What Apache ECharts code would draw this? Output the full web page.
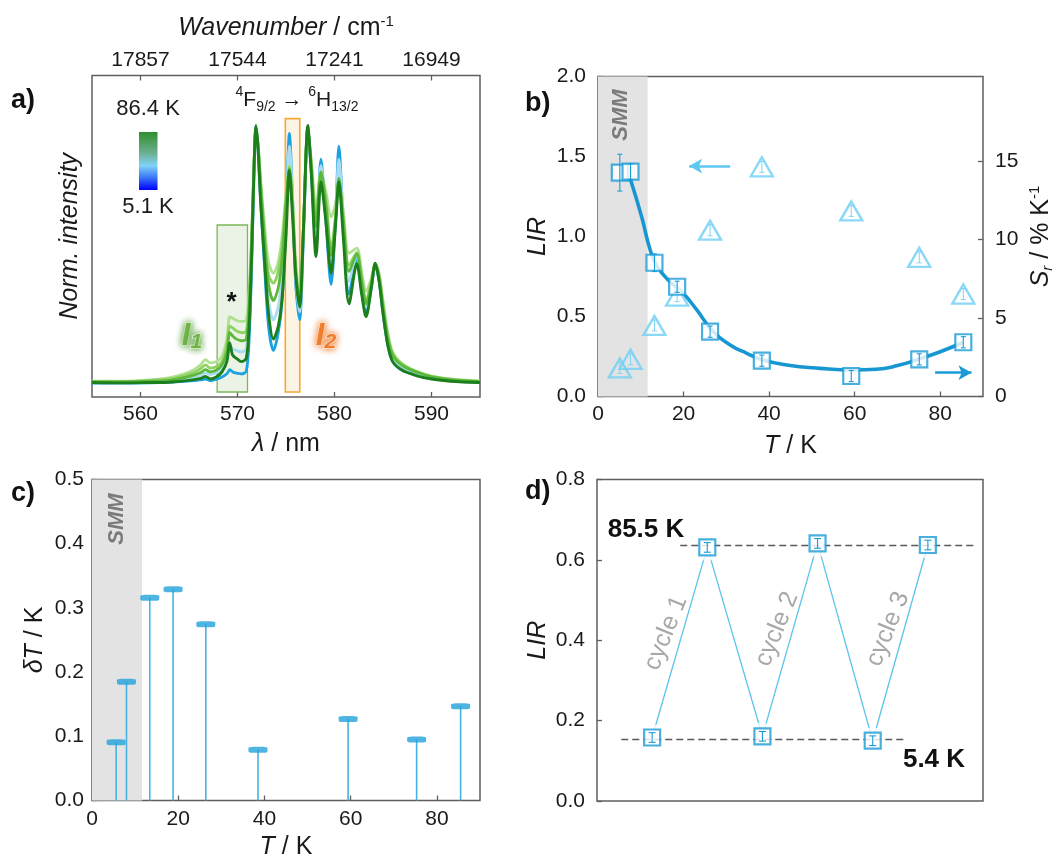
<!DOCTYPE html>
<html><head><meta charset="utf-8">
<script src="https://cdn.jsdelivr.net/npm/echarts@6/dist/echarts.min.js"></script>
<style>html,body{margin:0;padding:0;background:#fff}#c{width:1055px;height:858px}</style>
</head><body><div id="c"></div>
<script>
const FONT = "'Liberation Sans', Arial, Helvetica, sans-serif";
const TXT = '#1a1a1a';
const FRAME = '#5f5f5f';

// ---------- panel a: spectra ----------
const wavelength = [555,558,561,563,564.5,565.5,566.2,566.7,567.2,567.8,568.4,568.9,569.2,569.5,569.9,570.4,570.9,571.2,571.5,571.75,571.9,572.1,572.4,572.8,573.2,573.7,574.2,574.6,575.0,575.35,575.7,576.0,576.4,576.8,577.25,577.6,578.1,578.6,579.1,579.65,580.1,580.45,580.9,581.5,582.3,582.8,583.25,583.8,584.2,584.6,585.0,585.5,586.0,587.0,588.5,590,592,595];
const specBlue = [0.043,0.043,0.044,0.046,0.049,0.051,0.053,0.056,0.051,0.055,0.062,0.072,0.085,0.078,0.074,0.072,0.08,0.18,0.45,0.75,0.84,0.78,0.6,0.4,0.22,0.145,0.2,0.3,0.55,0.82,0.6,0.35,0.24,0.5,0.835,0.7,0.47,0.74,0.55,0.35,0.55,0.78,0.55,0.32,0.43,0.33,0.26,0.34,0.41,0.36,0.26,0.16,0.11,0.082,0.068,0.058,0.05,0.045];
const specLightBlue = [0.046,0.046,0.047,0.05,0.056,0.062,0.068,0.075,0.07,0.075,0.09,0.12,0.16,0.15,0.145,0.14,0.15,0.25,0.5,0.76,0.84,0.79,0.63,0.45,0.3,0.24,0.28,0.38,0.58,0.78,0.6,0.37,0.265,0.52,0.835,0.72,0.5,0.72,0.58,0.4,0.56,0.74,0.57,0.36,0.44,0.35,0.28,0.35,0.415,0.37,0.27,0.17,0.12,0.09,0.072,0.06,0.052,0.046];
const specPaleGreen = [0.049,0.049,0.053,0.06,0.072,0.085,0.1,0.116,0.106,0.11,0.126,0.18,0.25,0.245,0.238,0.235,0.24,0.33,0.55,0.76,0.82,0.79,0.67,0.53,0.42,0.385,0.42,0.5,0.63,0.72,0.6,0.42,0.31,0.53,0.82,0.74,0.59,0.69,0.64,0.56,0.6,0.66,0.58,0.447,0.463,0.39,0.328,0.37,0.415,0.385,0.3,0.2,0.14,0.104,0.08,0.065,0.056,0.05];
const specLightGreen = [0.048,0.048,0.051,0.056,0.066,0.076,0.088,0.1,0.09,0.094,0.11,0.16,0.22,0.215,0.205,0.2,0.205,0.3,0.53,0.76,0.83,0.79,0.66,0.5,0.38,0.354,0.39,0.47,0.62,0.715,0.58,0.4,0.3,0.53,0.83,0.73,0.55,0.7,0.62,0.46,0.56,0.675,0.56,0.41,0.45,0.37,0.3,0.36,0.415,0.38,0.29,0.19,0.135,0.1,0.078,0.064,0.055,0.049];
const specGreen = [0.047,0.047,0.049,0.052,0.06,0.068,0.076,0.085,0.078,0.083,0.1,0.14,0.2,0.19,0.18,0.175,0.18,0.28,0.52,0.76,0.835,0.79,0.65,0.48,0.35,0.3,0.34,0.43,0.6,0.71,0.57,0.39,0.29,0.53,0.835,0.72,0.53,0.7,0.6,0.44,0.55,0.68,0.55,0.39,0.445,0.36,0.29,0.35,0.415,0.37,0.28,0.18,0.13,0.098,0.077,0.063,0.054,0.048];
const specDarkGreen = [0.045,0.044,0.045,0.046,0.05,0.054,0.058,0.064,0.056,0.062,0.078,0.11,0.168,0.13,0.12,0.11,0.12,0.22,0.48,0.76,0.845,0.78,0.6,0.42,0.26,0.18,0.22,0.31,0.5,0.705,0.55,0.38,0.28,0.52,0.845,0.7,0.437,0.67,0.55,0.385,0.53,0.67,0.5,0.29,0.415,0.32,0.25,0.34,0.416,0.36,0.26,0.16,0.11,0.083,0.066,0.056,0.049,0.045];
const nmTicks = [560,570,580,590];
const wavenumberLabels = ['17857','17544','17241','16949'];
const i1Band = [567.9, 571.03, 0.535];   // from, to, top
const i2Band = [574.93, 576.42, 0.866];
const bandBottom = 0.0155;

// ---------- panel b ----------
const bTemp = [5.1, 7.6, 13.2, 18.5, 26.2, 38.3, 59.2, 75.1, 85.4];
const bLIR = [1.399, 1.405, 0.836, 0.686, 0.405, 0.224, 0.128, 0.232, 0.339];
const bLIRerr = [0.115, 0.05, 0.055, 0.035, 0.035, 0.035, 0.035, 0.035, 0.035];
const bSr = [1.82, 2.37, 4.53, 6.4, 10.6, 14.64, 11.83, 8.87, 6.53];
const bSrErr = [0.35, 0.35, 0.35, 0.35, 0.35, 0.35, 0.35, 0.35, 0.35];
const fitT = [7.5, 10.2, 12.2, 13.9, 16.8, 19.9, 23.1, 26.6, 30.9, 34.8, 38.6, 44.1, 51.9, 59.7, 65, 70, 75, 80, 85.4];
const fitLIR = [1.364, 1.124, 0.916, 0.811, 0.718, 0.645, 0.541, 0.416, 0.322, 0.27, 0.228, 0.197, 0.176, 0.166, 0.17, 0.193, 0.234, 0.28, 0.339];
const tTicks = [0,20,40,60,80];
const srTicks = [0,5,10,15];
const smmRange = [0, 11.6];
const arrowLeft = [[30.9, 1.44], [21.3, 1.44]];
const arrowRight = [[78.8, 0.149], [87.3, 0.149]];

// ---------- panel c ----------
const cTemp = [5.6, 8.0, 13.4, 18.8, 26.4, 38.5, 59.4, 75.3, 85.5];
const cDeltaT = [0.0906, 0.185, 0.316, 0.329, 0.2745, 0.079, 0.127, 0.095, 0.147];

// ---------- panel d ----------
const dIndex = [1, 2, 3, 4, 5, 6];
const dLIR = [0.158, 0.631, 0.161, 0.641, 0.150, 0.637];
const dErr = [0.012, 0.012, 0.012, 0.012, 0.012, 0.012];
const dHighLine = [1.51, 6.83, 0.636];
const dLowLine = [0.44, 5.61, 0.1525];

const zip = (a, b) => a.map((v, i) => [v, b[i]]);
const errData = (x, y, e) => x.map((v, i) => [v, y[i] - e[i], y[i] + e[i]]);

function errRender(color, capW, lw) {
  return function (params, api) {
    const x = api.value(0), lo = api.value(1), hi = api.value(2);
    const p1 = api.coord([x, lo]), p2 = api.coord([x, hi]);
    const c = capW / 2;
    const st = { stroke: color, lineWidth: lw };
    return { type: 'group', children: [
      { type: 'line', shape: { x1: p1[0], y1: p1[1], x2: p2[0], y2: p2[1] }, style: st },
      { type: 'line', shape: { x1: p1[0] - c, y1: p1[1], x2: p1[0] + c, y2: p1[1] }, style: st },
      { type: 'line', shape: { x1: p2[0] - c, y1: p2[1], x2: p2[0] + c, y2: p2[1] }, style: st }
    ]};
  };
}
function stemRender(params, api) {
  const x = api.value(0), y = api.value(1);
  const p1 = api.coord([x, 0]), p2 = api.coord([x, y]);
  return { type: 'line', shape: { x1: p1[0], y1: p1[1], x2: p2[0], y2: p2[1] }, style: { stroke: '#45b3e3', lineWidth: 1.6 } };
}

const tickStyle = { inside: true, length: 5, lineStyle: { color: FRAME, width: 1.3 } };
const lab = (extra) => Object.assign({ color: TXT, fontSize: 21, fontFamily: FONT }, extra || {});
const nameStyle = (rich) => ({ color: TXT, fontSize: 25, fontFamily: FONT, lineHeight: 28, rich: rich });
const richBase = {
  i: { fontStyle: 'italic', fontSize: 25, fontFamily: FONT, color: TXT, lineHeight: 28 },
  sup: { fontSize: 15, fontFamily: FONT, color: TXT, verticalAlign: 'top', lineHeight: 15 },
  sub: { fontSize: 15, fontFamily: FONT, color: TXT, verticalAlign: 'bottom', lineHeight: 15, fontStyle: 'italic' }
};
const gridBox = { show: true, borderColor: FRAME, borderWidth: 1.5, backgroundColor: 'transparent', containLabel: false, outerBoundsMode: 'none' };

const specSeries = [
  ['5.1 K', specBlue, '#1aa3e0', 2.8],
  ['light blue', specLightBlue, '#a9dcf3', 2.8],
  ['pale green', specPaleGreen, '#b0e192', 2.8],
  ['light green', specLightGreen, '#8fd262', 2.8],
  ['green', specGreen, '#5cb83a', 2.8],
  ['86.4 K', specDarkGreen, '#1c7f1c', 2.9]
].map(([n, d, c, w], k) => ({
  name: n, type: 'line', xAxisIndex: 0, yAxisIndex: 0, data: zip(wavelength, d),
  showSymbol: false, smooth: 0.3, lineStyle: { color: c, width: w }, z: 2 + k * 0.01, silent: true
}));

const option = {
  animation: false,
  backgroundColor: '#fff',
  textStyle: { fontFamily: FONT },
  grid: [
    Object.assign({ left: 92, top: 75.5, width: 388, height: 321.5 }, gridBox),
    Object.assign({ left: 598, top: 76.5, width: 385, height: 320 }, gridBox),
    Object.assign({ left: 92, top: 479.5, width: 388, height: 321 }, gridBox),
    Object.assign({ left: 597, top: 479.5, width: 386, height: 321.5 }, gridBox)
  ],
  xAxis: [
    { gridIndex: 0, type: 'value', min: 555, max: 595, splitLine: { show: false }, axisLine: { show: false },
      axisTick: Object.assign({ customValues: nmTicks }, tickStyle),
      axisLabel: lab({ customValues: nmTicks, margin: 7 }),
      name: '{i|λ} / nm', nameLocation: 'middle', nameGap: 33, nameMoveOverlap: false, nameTextStyle: nameStyle(richBase) },
    { gridIndex: 0, type: 'value', position: 'top', min: 555, max: 595, splitLine: { show: false }, axisLine: { show: false },
      axisTick: Object.assign({ customValues: nmTicks }, tickStyle),
      axisLabel: lab({ customValues: nmTicks, margin: 5, formatter: v => wavenumberLabels[nmTicks.indexOf(Math.round(v))] || '' }),
      name: '{i|Wavenumber} / cm{sup|-1}', nameLocation: 'middle', nameGap: 33, nameMoveOverlap: false, nameTextStyle: nameStyle(richBase) },
    { gridIndex: 1, type: 'value', min: 0, max: 90, splitLine: { show: false }, axisLine: { show: false },
      axisTick: Object.assign({ customValues: tTicks }, tickStyle),
      axisLabel: lab({ customValues: tTicks, margin: 7 }),
      name: '{i|T} / K', nameLocation: 'middle', nameGap: 36, nameMoveOverlap: false, nameTextStyle: nameStyle(richBase) },
    { gridIndex: 2, type: 'value', min: 0, max: 90, splitLine: { show: false }, axisLine: { show: false },
      axisTick: Object.assign({ customValues: tTicks }, tickStyle),
      axisLabel: lab({ customValues: tTicks, margin: 8 }),
      name: '{i|T} / K', nameLocation: 'middle', nameGap: 33, nameMoveOverlap: false, nameTextStyle: nameStyle(richBase) },
    { gridIndex: 3, type: 'value', min: 0, max: 7, splitLine: { show: false }, axisLine: { show: false },
      axisTick: { show: false }, axisLabel: { show: false } }
  ],
  yAxis: [
    { gridIndex: 0, type: 'value', min: 0, max: 1, splitLine: { show: false }, axisLine: { show: false },
      axisTick: { show: false }, axisLabel: { show: false },
      name: 'Norm. intensity', nameLocation: 'middle', nameRotate: 90, nameGap: 9, nameMoveOverlap: false,
      nameTextStyle: { color: TXT, fontSize: 25, fontStyle: 'italic', fontFamily: FONT } },
    { gridIndex: 1, type: 'value', min: 0, max: 2, interval: 0.5, splitLine: { show: false }, axisLine: { show: false },
      axisTick: tickStyle, axisLabel: lab({ margin: 12, formatter: v => v.toFixed(1) }),
      name: '{i|LIR}', nameLocation: 'middle', nameRotate: 90, nameGap: 46, nameMoveOverlap: false, nameTextStyle: nameStyle(richBase) },
    { gridIndex: 1, type: 'value', position: 'right', min: 0, max: 20.4, splitLine: { show: false }, axisLine: { show: false },
      axisTick: Object.assign({ customValues: srTicks }, tickStyle),
      axisLabel: lab({ customValues: srTicks, margin: 12 }),
      name: '{i|S}{sub|r} / % K{sup|-1}', nameLocation: 'middle', nameRotate: 90, nameGap: 44, nameMoveOverlap: false, nameTextStyle: nameStyle(richBase) },
    { gridIndex: 2, type: 'value', min: 0, max: 0.5, interval: 0.1, splitLine: { show: false }, axisLine: { show: false },
      axisTick: tickStyle, axisLabel: lab({ margin: 8, formatter: v => v.toFixed(1) }),
      name: '{i|δT} / K', nameLocation: 'middle', nameRotate: 90, nameGap: 43, nameMoveOverlap: false, nameTextStyle: nameStyle(richBase) },
    { gridIndex: 3, type: 'value', min: 0, max: 0.8, interval: 0.2, splitLine: { show: false }, axisLine: { show: false },
      axisTick: tickStyle, axisLabel: lab({ margin: 12, formatter: v => v.toFixed(1) }),
      name: '{i|LIR}', nameLocation: 'middle', nameRotate: 90, nameGap: 45, nameMoveOverlap: false, nameTextStyle: nameStyle(richBase) }
  ],
  series: [
    ...specSeries,
    { type: 'line', xAxisIndex: 0, yAxisIndex: 0, data: [], z: 10, silent: true,
      markArea: { silent: true, data: [
        [{ coord: [i1Band[0], bandBottom], itemStyle: { color: 'rgba(165,200,140,0.22)', borderColor: '#7cb65a', borderWidth: 1.3 } }, { coord: [i1Band[1], i1Band[2]] }],
        [{ coord: [i2Band[0], bandBottom], itemStyle: { color: 'rgba(250,205,130,0.22)', borderColor: '#f5a833', borderWidth: 1.6 } }, { coord: [i2Band[1], i2Band[2]] }]
      ] } },

    // panel b
    { type: 'line', xAxisIndex: 2, yAxisIndex: 1, data: [], z: 0, silent: true,
      markArea: { silent: true, itemStyle: { color: '#e3e3e3' }, data: [[{ xAxis: smmRange[0] }, { xAxis: smmRange[1] }]] } },
    { name: 'fit', type: 'line', xAxisIndex: 2, yAxisIndex: 1, data: zip(fitT, fitLIR), smooth: 0.5, showSymbol: false,
      lineStyle: { color: '#1797d2', width: 3.6 }, z: 3, silent: true },
    { name: 'Sr', type: 'scatter', xAxisIndex: 2, yAxisIndex: 2, data: zip(bTemp, bSr), symbol: 'triangle', symbolSize: [22, 19],
      itemStyle: { color: 'rgba(255,255,255,0)', borderColor: '#6fd0f5', borderWidth: 2.4 }, z: 4, silent: true },
    { type: 'custom', xAxisIndex: 2, yAxisIndex: 2, data: errData(bTemp, bSr, bSrErr), renderItem: errRender('#7fd4f3', 5, 1), z: 4, silent: true },
    { name: 'LIR', type: 'scatter', xAxisIndex: 2, yAxisIndex: 1, data: zip(bTemp, bLIR), symbol: 'rect', symbolSize: 16,
      itemStyle: { color: '#fff', borderColor: '#1a9bd7', borderWidth: 2.2 }, z: 5, silent: true },
    { type: 'custom', xAxisIndex: 2, yAxisIndex: 1, data: errData(bTemp, bLIR, bLIRerr), renderItem: errRender('#1a9bd7', 5, 1.1), z: 6, silent: true },
    { type: 'line', xAxisIndex: 2, yAxisIndex: 1, data: [], z: 6, silent: true,
      markLine: { silent: true, symbol: ['none', 'arrow'], symbolSize: [11, 13], label: { show: false }, data: [
        [{ coord: arrowLeft[0], lineStyle: { color: '#5ec8f0', width: 2.6, type: 'solid' } }, { coord: arrowLeft[1] }],
        [{ coord: arrowRight[0], lineStyle: { color: '#1a9bd7', width: 2.6, type: 'solid' } }, { coord: arrowRight[1] }]
      ] } },

    // panel c
    { type: 'line', xAxisIndex: 3, yAxisIndex: 3, data: [], z: 0, silent: true,
      markArea: { silent: true, itemStyle: { color: '#e3e3e3' }, data: [[{ xAxis: smmRange[0] }, { xAxis: smmRange[1] }]] } },
    { type: 'custom', xAxisIndex: 3, yAxisIndex: 3, data: zip(cTemp, cDeltaT), renderItem: stemRender, z: 3, silent: true },
    { name: 'δT', type: 'scatter', xAxisIndex: 3, yAxisIndex: 3, data: zip(cTemp, cDeltaT), symbol: 'roundRect', symbolSize: [19, 6],
      itemStyle: { color: '#22a2dc' }, z: 4, silent: true },

    // panel d
    { type: 'line', xAxisIndex: 4, yAxisIndex: 4, data: zip(dIndex, dLIR), showSymbol: false, lineStyle: { color: '#5cc4ec', width: 1.3 }, z: 2, silent: true },
    { type: 'scatter', xAxisIndex: 4, yAxisIndex: 4, data: zip(dIndex, dLIR), symbol: 'circle', symbolSize: 27, itemStyle: { color: '#fff' }, z: 3, silent: true },
    { type: 'line', xAxisIndex: 4, yAxisIndex: 4, data: [], z: 4, silent: true,
      markLine: { silent: true, symbol: ['none', 'none'], label: { show: false }, lineStyle: { color: '#5a5a5a', width: 1.4, type: [7, 4] }, data: [
        [{ coord: [dHighLine[0], dHighLine[2]] }, { coord: [dHighLine[1], dHighLine[2]] }],
        [{ coord: [dLowLine[0], dLowLine[2]] }, { coord: [dLowLine[1], dLowLine[2]] }]
      ] } },
    { name: 'cycles', type: 'scatter', xAxisIndex: 4, yAxisIndex: 4, data: zip(dIndex, dLIR), symbol: 'rect', symbolSize: 16,
      itemStyle: { color: '#fff', borderColor: '#1a9bd7', borderWidth: 2.2 }, z: 5, silent: true },
    { type: 'custom', xAxisIndex: 4, yAxisIndex: 4, data: errData(dIndex, dLIR, dErr), renderItem: errRender('#1a9bd7', 7, 1.1), z: 6, silent: true }
  ],
  graphic: [
    { type: 'text', z: 100, style: { text: 'a)', x: 11, y: 101, align: 'left', verticalAlign: 'middle', fontSize: 27, fontWeight: 'bold', fontFamily: FONT, fill: '#111' } },
    { type: 'text', z: 100, style: { text: 'b)', x: 525, y: 104, align: 'left', verticalAlign: 'middle', fontSize: 27, fontWeight: 'bold', fontFamily: FONT, fill: '#111' } },
    { type: 'text', z: 100, style: { text: 'c)', x: 11, y: 494, align: 'left', verticalAlign: 'middle', fontSize: 27, fontWeight: 'bold', fontFamily: FONT, fill: '#111' } },
    { type: 'text', z: 100, style: { text: 'd)', x: 525, y: 492, align: 'left', verticalAlign: 'middle', fontSize: 27, fontWeight: 'bold', fontFamily: FONT, fill: '#111' } },
    { type: 'text', z: 100, style: { text: '86.4 K', x: 148, y: 108.5, align: 'center', verticalAlign: 'middle', fontSize: 22, fontFamily: FONT, fill: TXT } },
    { type: 'text', z: 100, style: { text: '5.1 K', x: 148, y: 207, align: 'center', verticalAlign: 'middle', fontSize: 22, fontFamily: FONT, fill: TXT } },
    { type: 'rect', z: 100, shape: { x: 139, y: 132, width: 18.5, height: 58 },
      style: { fill: new echarts.graphic.LinearGradient(0, 0, 0, 1, [
        { offset: 0, color: '#2e8f2e' }, { offset: 0.35, color: '#6aae8c' }, { offset: 0.58, color: '#80d2fa' },
        { offset: 0.78, color: '#3c78f6' }, { offset: 1, color: '#0000ff' }]) } },
    { type: 'text', z: 100, style: { text: '{s|4}{m|F}{b|9/2}{m| → }{s|6}{m|H}{b|13/2}', x: 297, y: 100, align: 'center', verticalAlign: 'middle',
      rich: {
        m: { fontSize: 21, fontFamily: FONT, fill: TXT, lineHeight: 29 },
        s: { fontSize: 14, fontFamily: FONT, fill: TXT, verticalAlign: 'top', lineHeight: 14 },
        b: { fontSize: 14, fontFamily: FONT, fill: TXT, verticalAlign: 'bottom', lineHeight: 14 }
      } } },
    { type: 'text', z: 100, style: { text: '*', x: 231.6, y: 303, align: 'center', verticalAlign: 'middle', fontSize: 26, fontWeight: 'bold', fontFamily: FONT, fill: '#111' } },
    { type: 'text', z: 100, style: { text: '{a|I}{b|1}', x: 192, y: 336, align: 'center', verticalAlign: 'middle',
      rich: {
        a: { fontSize: 31, fontWeight: 'bold', fontStyle: 'italic', fontFamily: FONT, fill: '#6fb443', stroke: '#f2fbe9', lineWidth: 2, textShadowColor: 'rgba(70,150,40,0.95)', textShadowBlur: 7, lineHeight: 34 },
        b: { fontSize: 21, fontWeight: 'bold', fontStyle: 'italic', fontFamily: FONT, fill: '#6fb443', stroke: '#f2fbe9', lineWidth: 2, textShadowColor: 'rgba(70,150,40,0.95)', textShadowBlur: 7, verticalAlign: 'bottom', lineHeight: 22 }
      } } },
    { type: 'text', z: 100, style: { text: '{a|I}{b|2}', x: 326, y: 336, align: 'center', verticalAlign: 'middle',
      rich: {
        a: { fontSize: 31, fontWeight: 'bold', fontStyle: 'italic', fontFamily: FONT, fill: '#f07d2c', stroke: '#fff3ea', lineWidth: 2, textShadowColor: 'rgba(240,120,40,0.9)', textShadowBlur: 7, lineHeight: 34 },
        b: { fontSize: 21, fontWeight: 'bold', fontStyle: 'italic', fontFamily: FONT, fill: '#f07d2c', stroke: '#fff3ea', lineWidth: 2, textShadowColor: 'rgba(240,120,40,0.9)', textShadowBlur: 7, verticalAlign: 'bottom', lineHeight: 22 }
      } } },
    { type: 'text', z: 100, x: 621, y: 115, rotation: Math.PI / 2, style: { text: 'SMM', x: 0, y: 0, align: 'center', verticalAlign: 'middle', fontSize: 22, fontWeight: 'bold', fontStyle: 'italic', fontFamily: FONT, fill: '#7a7a7a' } },
    { type: 'text', z: 100, x: 117, y: 519, rotation: Math.PI / 2, style: { text: 'SMM', x: 0, y: 0, align: 'center', verticalAlign: 'middle', fontSize: 22, fontWeight: 'bold', fontStyle: 'italic', fontFamily: FONT, fill: '#7a7a7a' } },
    { type: 'text', z: 100, style: { text: '85.5 K', x: 646, y: 530, align: 'center', verticalAlign: 'middle', fontSize: 26, fontWeight: 'bold', fontFamily: FONT, fill: '#111' } },
    { type: 'text', z: 100, style: { text: '5.4 K', x: 934, y: 760, align: 'center', verticalAlign: 'middle', fontSize: 26, fontWeight: 'bold', fontFamily: FONT, fill: '#111' } },
    { type: 'text', z: 100, x: 666, y: 633, rotation: 68 * Math.PI / 180, style: { text: 'cycle 1', x: 0, y: 0, align: 'center', verticalAlign: 'middle', fontSize: 25, fontFamily: FONT, fill: '#a8a8a8' } },
    { type: 'text', z: 100, x: 777, y: 629, rotation: 68 * Math.PI / 180, style: { text: 'cycle 2', x: 0, y: 0, align: 'center', verticalAlign: 'middle', fontSize: 25, fontFamily: FONT, fill: '#a8a8a8' } },
    { type: 'text', z: 100, x: 888, y: 629, rotation: 68 * Math.PI / 180, style: { text: 'cycle 3', x: 0, y: 0, align: 'center', verticalAlign: 'middle', fontSize: 25, fontFamily: FONT, fill: '#a8a8a8' } }
  ]
};
const chart = echarts.init(document.getElementById('c'), null, { renderer: 'canvas' });
chart.setOption(option);
</script></body></html>
